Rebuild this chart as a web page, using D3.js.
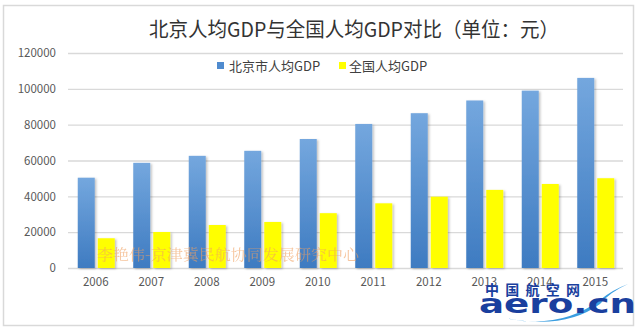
<!DOCTYPE html>
<html><head><meta charset="utf-8">
<script src="https://cdn.jsdelivr.net/npm/d3@7"></script>
<style>body{margin:0;background:#fff;} svg{display:block;}</style>
</head><body><svg id="c" width="640" height="330"></svg>
<script>
const years = ["2006","2007","2008","2009","2010","2011","2012","2013","2014","2015"];
const beijing = [50400, 58700, 62600, 65400, 72000, 80400, 86400, 93500, 99000, 106100];
const national = [16600, 20100, 24000, 25700, 30600, 36100, 39800, 43600, 46900, 50100];
const seriesNames = ["北京市人均GDP", "全国人均GDP"];
const yTicks = [0, 20000, 40000, 60000, 80000, 100000, 120000];
const titleText = "北京人均GDP与全国人均GDP对比（单位：元）";

const svg = d3.select("#c");
const font = "'Noto Sans CJK SC', 'Noto Sans', sans-serif";
const W = 640, H = 330;
const m = {l: 68, r: 17, t: 53, b: 62};
const x = d3.scaleBand().domain(years).range([m.l, W - m.r]).paddingInner(0).paddingOuter(0);
const y = d3.scaleLinear().domain([0, 120000]).range([H - m.b, m.t]);

const defs = svg.append("defs");
const g1 = defs.append("linearGradient").attr("id","gb").attr("x1",0).attr("y1",0).attr("x2",0).attr("y2",1);
g1.append("stop").attr("offset","0%").attr("stop-color","#74a7de");
g1.append("stop").attr("offset","100%").attr("stop-color","#3e7bc1");
const f = defs.append("filter").attr("id","sh").attr("x","-20%").attr("y","-5%").attr("width","150%").attr("height","115%");
f.append("feDropShadow").attr("dx",1.5).attr("dy",1).attr("stdDeviation",1.2).attr("flood-color","#000").attr("flood-opacity",0.25);

// border
svg.append("rect").attr("x",3.5).attr("y",5.5).attr("width",630).attr("height",320)
  .attr("fill","#fff").attr("stroke","#d9d9d9").attr("stroke-width",1.5);

// title
svg.append("text").attr("x",354).attr("y",37).attr("text-anchor","middle")
  .attr("font-family",font).attr("font-size",20).attr("fill","#333")
  .attr("textLength",410).attr("lengthAdjust","spacingAndGlyphs").text(titleText);

// grid + y axis
const yAxis = d3.axisLeft(y).tickValues(yTicks).tickSize(-(W - m.r - m.l)).tickPadding(12).tickFormat(d3.format("d"));
const ga = svg.append("g").attr("transform",`translate(${m.l},0)`).call(yAxis);
ga.select(".domain").remove();
ga.selectAll(".tick line").attr("stroke","#d9d9d9").attr("stroke-width",1.3);
ga.selectAll(".tick text").attr("font-family",font).attr("font-size",11.5).attr("fill","#595959");

// x axis
const xAxis = d3.axisBottom(x).tickSize(0).tickPadding(10);
const gx = svg.append("g").attr("transform",`translate(0,${H - m.b})`).call(xAxis);
gx.select(".domain").remove();
gx.selectAll(".tick text").attr("font-family",font).attr("font-size",11.5).attr("fill","#595959");

// bars
const bw = 17, gap = 3;
const bars = svg.append("g");
bars.selectAll("rect.b").data(years).enter().append("rect")
  .attr("x", (d) => x(d) + x.bandwidth()/2 - bw - gap/2 + 0.5)
  .attr("y", (d,i) => y(beijing[i]))
  .attr("width", bw).attr("height", (d,i) => y(0) - y(beijing[i]))
  .attr("fill","url(#gb)").attr("filter","url(#sh)");
bars.selectAll("rect.n").data(years).enter().append("rect")
  .attr("x", (d) => x(d) + x.bandwidth()/2 + gap/2 + 0.5)
  .attr("y", (d,i) => y(national[i]))
  .attr("width", bw).attr("height", (d,i) => y(0) - y(national[i]))
  .attr("fill","#ffff00").attr("filter","url(#sh)");

// legend
const lg = svg.append("g").attr("font-family",font).attr("font-size",13).attr("fill","#404040");
lg.append("rect").attr("x",217).attr("y",62).attr("width",7).attr("height",7).attr("fill","#4f8bcf");
lg.append("text").attr("x",229).attr("y",71).text(seriesNames[0]);
lg.append("rect").attr("x",339).attr("y",62).attr("width",7).attr("height",7).attr("fill","#ffff00");
lg.append("text").attr("x",349).attr("y",71).text(seriesNames[1]);

// watermark
svg.append("text").attr("x",97).attr("y",260).attr("font-family","'Noto Serif CJK SC', 'Noto Sans CJK SC', serif")
  .attr("font-size",15).attr("fill","#f0a060").attr("opacity",0.6)
  .attr("textLength",262).attr("lengthAdjust","spacingAndGlyphs").text("李艳伟-京津冀民航协同发展研究中心");

// logo
const logo = svg.append("g").attr("fill","#1a3f9e").attr("font-family",font);
logo.append("path").attr("d","M505,318 Q560,330 600,300 Q612,290 628,284 Q610,292 600,304 Q565,330 505,318 Z")
  .attr("fill","#3a9ee0");
logo.append("text").attr("x",485).attr("y",295).attr("font-size",14).attr("font-weight",700)
  .attr("textLength",95).attr("lengthAdjust","spacing").text("中国航空网");
logo.append("text").attr("x",479).attr("y",313).attr("font-size",27).attr("font-weight",900)
  .attr("font-family","'DejaVu Sans', sans-serif")
  .attr("textLength",157).attr("lengthAdjust","spacingAndGlyphs").text("aero.cn");
</script></body></html>
